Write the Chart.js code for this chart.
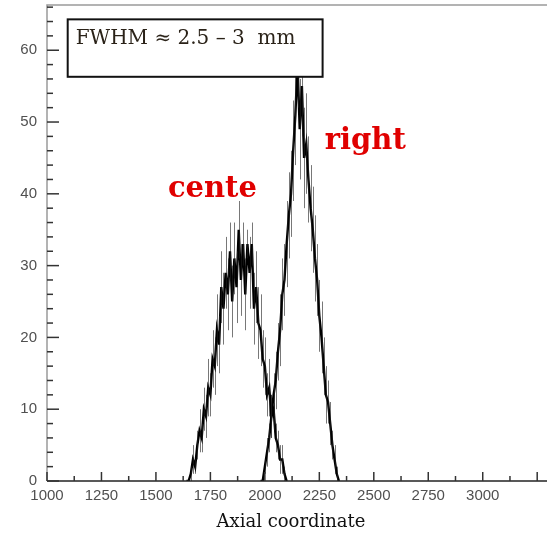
<!DOCTYPE html>
<html><head><meta charset="utf-8">
<script src="https://cdn.jsdelivr.net/npm/chart.js@4.4.1/dist/chart.umd.min.js"></script>
<style>html,body{margin:0;padding:0;background:#fff;} #wrap{width:547px;height:533px;position:relative;}</style>
</head><body><div id="wrap"><canvas id="c"></canvas></div>
<script>
// ---- data ----
const centerX = [1640,1650,1660,1670,1680,1690,1700,1710,1720,1730,1740,1750,1760,1770,1780,1790,1800,1810,1820,1830,1840,1850,1860,1870,1880,1890,1900,1910,1920,1930,1940,1950,1960,1970,1980,1990,2000,2010,2020,2030,2040,2050,2060,2070,2080,2090,2100];
const centerY = [0,0,1,3,2,5,7,6,10,9,13,12,17,16,21,19,27,24,29,26,32,25,31,27,35,28,33,26,33,29,33,24,27,22,21,17,16,12,13,9,10,6,5,3,3,1,0];
const centerErr = [0,0,1,2,1,2,3,2,3,3,4,3,4,4,5,4,5,5,5,5,4,5,5,5,4,5,3,5,2,5,3,5,5,5,5,4,4,3,4,3,3,2,2,2,2,1,0];
const rightX = [1980,1990,2000,2010,2020,2030,2040,2050,2060,2070,2080,2090,2100,2110,2120,2130,2140,2150,2160,2170,2180,2190,2200,2210,2220,2230,2240,2250,2260,2270,2280,2290,2300,2310,2320,2330,2340];
const rightY = [0,0,2,4,6,9,12,14,18,21,26,28,33,37,40,46,51,58,49,55,45,47,42,38,35,31,28,23,20,16,12,11,8,5,3,1,0];
const rightErr = [0,0,1,2,2,3,3,4,4,5,5,5,6,6,6,7,7,6,7,7,7,7,6,6,6,6,5,5,5,4,4,3,3,2,2,1,0];
const xTickLabels = [1000,1250,1500,1750,2000,2250,2500,2750,3000];
const yTickLabels = [0,10,20,30,40,50,60];
const boxText = "FWHM \u2248 2.5 \u2013 3  mm";
const labelCenter = "cente";
const labelRight = "right";
const xTitle = "Axial coordinate";

const toPts = (xs, ys) => xs.map((x, i) => ({x: x, y: ys[i]}));

const decor = {
  id: 'decor',
  afterDatasetsDraw(chart) {
    const ctx = chart.ctx, xs = chart.scales.x, ys = chart.scales.y, a = chart.chartArea;
    ctx.save();
    // error bars
    ctx.strokeStyle = 'rgba(30,30,30,0.6)';
    ctx.lineWidth = 1;
    [[centerX, centerY, centerErr], [rightX, rightY, rightErr]].forEach(([X, Y, E]) => {
      X.forEach((x, i) => {
        if (!E[i]) return;
        const px = Math.round(xs.getPixelForValue(x)) + 0.5;
        ctx.beginPath();
        ctx.moveTo(px, ys.getPixelForValue(Math.max(0, Y[i] - E[i])));
        ctx.lineTo(px, ys.getPixelForValue(Y[i] + E[i]));
        ctx.stroke();
      });
    });
    // frame
    ctx.lineWidth = 1.5;
    ctx.strokeStyle = '#9a9a9a';
    ctx.beginPath();
    ctx.moveTo(a.left, a.bottom); ctx.lineTo(a.left, a.top); ctx.lineTo(a.right, a.top);
    ctx.stroke();
    ctx.strokeStyle = '#222';
    ctx.beginPath();
    ctx.moveTo(a.left, a.bottom); ctx.lineTo(a.right, a.bottom);
    ctx.stroke();
    // y ticks (inside)
    ctx.strokeStyle = '#333';
    ctx.lineWidth = 1.5;
    for (let v = 0; v <= ys.max; v += 2) {
      const py = ys.getPixelForValue(v);
      const len = (v % 10 === 0) ? 12 : 6;
      ctx.beginPath(); ctx.moveTo(a.left, py); ctx.lineTo(a.left + len, py); ctx.stroke();
    }
    // x ticks (inside)
    for (let v = 1000; v <= xs.max; v += 125) {
      const px = xs.getPixelForValue(v);
      const len = ((v - 1000) % 250 === 0) ? 9 : 5;
      ctx.beginPath(); ctx.moveTo(px, a.bottom); ctx.lineTo(px, a.bottom - len); ctx.stroke();
    }
    // FWHM box
    const bx1 = xs.getPixelForValue(1095), bx2 = xs.getPixelForValue(2265);
    const by1 = ys.getPixelForValue(64.3), by2 = ys.getPixelForValue(56.3);
    ctx.fillStyle = '#fff';
    ctx.fillRect(bx1, by1, bx2 - bx1, by2 - by1);
    ctx.strokeStyle = '#111';
    ctx.lineWidth = 2;
    ctx.strokeRect(bx1, by1, bx2 - bx1, by2 - by1);
    ctx.fillStyle = '#2a2218';
    ctx.font = '20px "DejaVu Serif"';
    ctx.textAlign = 'left';
    ctx.textBaseline = 'alphabetic';
    ctx.fillText(boxText, bx1 + 8, by1 + 25);
    // red labels
    ctx.fillStyle = '#e00000';
    ctx.font = 'bold 29px "DejaVu Serif"';
    ctx.fillText(labelCenter, xs.getPixelForValue(1555), ys.getPixelForValue(39.6));
    ctx.fillText(labelRight, xs.getPixelForValue(2275), ys.getPixelForValue(46.2));
    // x title
    ctx.fillStyle = '#111';
    ctx.font = '18px "DejaVu Serif"';
    ctx.textAlign = 'center';
    ctx.fillText(xTitle, xs.getPixelForValue(2120), a.bottom + 46);
    ctx.restore();
  }
};

new Chart(document.getElementById('c'), {
  type: 'line',
  data: {
    datasets: [
      {label: 'center', data: toPts(centerX, centerY), borderColor: '#000', borderWidth: 2.4, pointRadius: 0, tension: 0, fill: false},
      {label: 'right', data: toPts(rightX, rightY), borderColor: '#000', borderWidth: 2.4, pointRadius: 0, tension: 0, fill: false}
    ]
  },
  options: {
    responsive: true,
    maintainAspectRatio: false,
    animation: false,
    devicePixelRatio: 1,
    layout: {padding: {top: 5, right: 0, left: 0, bottom: 0}},
    plugins: {legend: {display: false}, tooltip: {enabled: false}, title: {display: false}},
    scales: {
      x: {
        type: 'linear', min: 1000, max: 3295,
        afterBuildTicks: s => { s.ticks = xTickLabels.map(v => ({value: v})); },
        ticks: {color: '#505050', font: {family: '"Liberation Sans"', size: 15}, maxRotation: 0, autoSkip: false, padding: 6, callback: v => String(v)},
        grid: {display: false, drawTicks: false},
        border: {display: false},
        afterFit: s => { s.height = 52; s.paddingLeft = 0; s.paddingRight = 0; }
      },
      y: {
        min: 0, max: 66.3,
        afterBuildTicks: s => { s.ticks = yTickLabels.map(v => ({value: v})); },
        ticks: {color: '#505050', font: {family: '"Liberation Sans"', size: 15}, padding: 10, callback: v => String(v)},
        grid: {display: false, drawTicks: false},
        border: {display: false},
        afterFit: s => { s.width = 47; s.paddingTop = 0; s.paddingBottom = 0; }
      }
    }
  },
  plugins: [decor]
});
</script>
</body></html>
